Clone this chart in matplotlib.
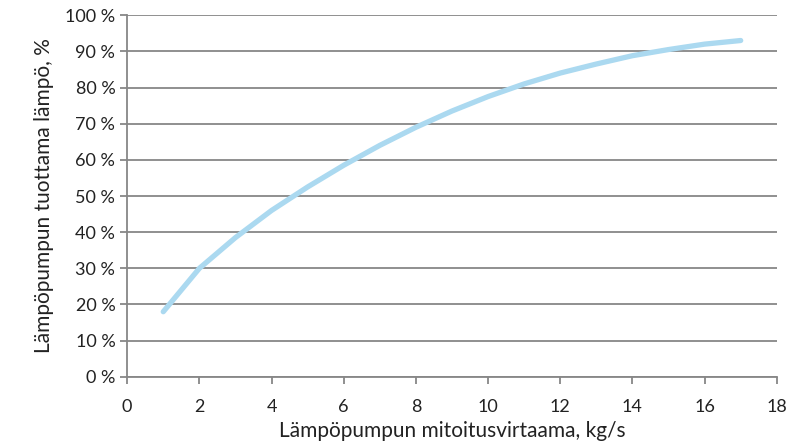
import matplotlib
matplotlib.use("Agg")
import matplotlib.pyplot as plt
from matplotlib.ticker import FuncFormatter

# design flow of the heat pump (kg/s) and share of heat it produces (%)
flow = [1, 2, 3, 4, 5, 6, 7, 8, 9, 10, 11, 12, 13, 14, 15, 16, 17]
share = [18, 30, 38.5, 46, 52.5, 58.5, 64, 69, 73.5, 77.5, 81, 84, 86.5, 88.8, 90.5, 92, 93]

x_ticks = list(range(0, 19, 2))
y_ticks = list(range(0, 101, 10))

plt.rcParams["font.family"] = ["Lato", "DejaVu Sans"]
GRID = "#878787"

fig = plt.figure(figsize=(8.1, 4.47), dpi=100)
ax = fig.add_axes([0.157, 0.157, 0.802, 0.809])

ax.plot(flow, share, color="#abd9f0", lw=3.8, solid_capstyle="round", zorder=3)

ax.set_xlim(0, 18)
ax.set_ylim(0, 100)
ax.set_xticks(x_ticks)
ax.set_yticks(y_ticks)
ax.yaxis.set_major_formatter(FuncFormatter(lambda v, _: f"{v:.0f} %"))

ax.grid(axis="y", color=GRID, lw=1.3)
ax.set_axisbelow(True)
for side in ("top", "right"):
    ax.spines[side].set_visible(False)
for side in ("left", "bottom"):
    ax.spines[side].set_color(GRID)
    ax.spines[side].set_linewidth(1.3)
ax.tick_params(axis="both", colors=GRID, labelcolor="#222222", labelsize=13,
               length=5, width=1.3)
ax.tick_params(axis="x", pad=11)

ax.set_xlabel("Lämpöpumpun mitoitusvirtaama, kg/s", fontsize=15, color="#222222",
              labelpad=4)
ax.set_ylabel("Lämpöpumpun tuottama lämpö, %", fontsize=15, color="#222222",
              labelpad=8)

fig.savefig("out.png", dpi=100)
